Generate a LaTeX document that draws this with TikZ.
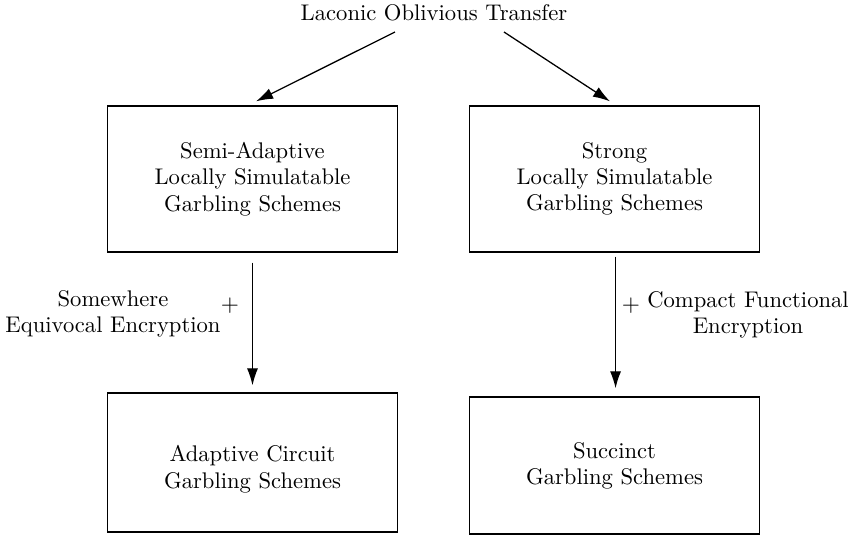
\documentclass[tikz,border=0pt]{standalone}
\usepackage{amsmath,amssymb}
\usepackage{tikz}
\usetikzlibrary{arrows.meta}

\begin{document}
\begin{tikzpicture}[x=0.4685pt, y=-0.4685pt, line width=0.6pt,
    font=\fontsize{10.6pt}{12.3pt}\selectfont,
    scheme/.style={draw, align=center, minimum width=136pt, minimum height=68.4pt, inner sep=0pt},
    implies/.style={-{Latex[length=8pt,width=5.2pt]}}]
          \useasboundingbox (0, 0) rectangle (855, 546);

          % Source
          \node (lot) at (434, 13) {Laconic Oblivious Transfer};
          \coordinate (lotL) at (395, 32);
          \coordinate (lotR) at (504, 32);

          % Garbling schemes
          \node [scheme] (semi) at (252.5, 179) {Semi-Adaptive\\Locally Simulatable\\Garbling Schemes};
          \node [scheme] (strong) at (614.5, 179) {Strong\\Locally Simulatable\\Garbling Schemes};
          \node [scheme, minimum height=65.1pt] (adapt) at (252.5, 462.5) {\rule{0pt}{13.9pt}Adaptive Circuit\\Garbling Schemes};
          \node [scheme, minimum height=64.2pt] (succ) at (614.5, 465.5) {Succinct\\Garbling Schemes};

          \draw [implies] (lotL) -- ([shift={(3.5, -4)}]semi.north);
          \draw [implies] (lotR) -- ([shift={(-4.5, -4)}]strong.north);

          \draw [implies, shorten <=10*0.4685pt, shorten >=7*0.4685pt] (semi.south) -- (adapt.north);
          \draw [implies, shorten <=4*0.4685pt, shorten >=8*0.4685pt] ([xshift=0.5]strong.south) -- ([xshift=0.5]succ.north);

          % Side conditions
          \node [align=center] (swe) at (113, 314) {Somewhere\\Equivocal Encryption};
          \node (plusL) at (230, 306) {$+$};
          \node (plusR) at (631, 306) {$+$};
          \node [align=center] (cfe) at (748, 315) {Compact Functional\\Encryption};
        \end{tikzpicture}
\end{document}
